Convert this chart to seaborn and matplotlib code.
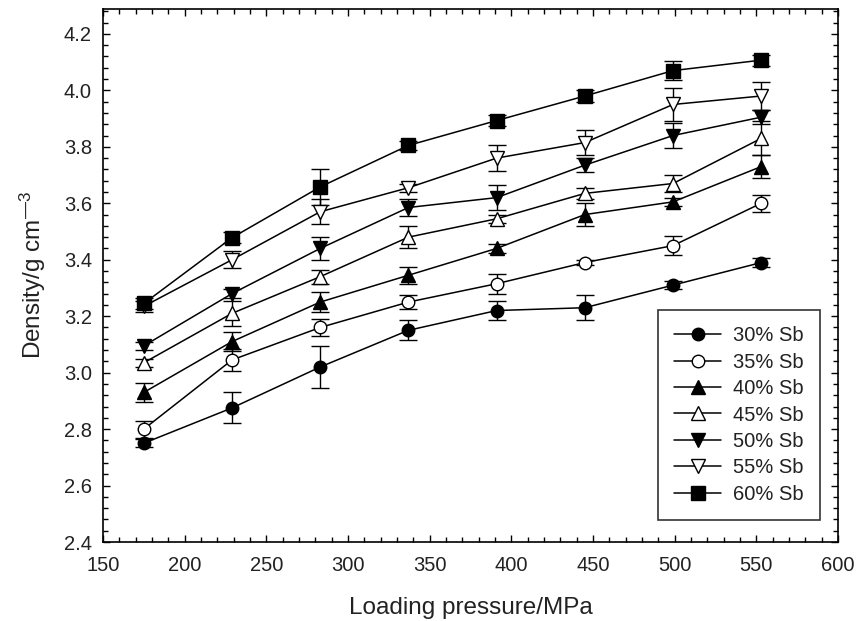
import matplotlib
matplotlib.use("Agg")
import matplotlib.pyplot as plt
import seaborn as sns
import pandas as pd
from matplotlib.ticker import MultipleLocator

pressure = [175, 229, 283, 337, 391, 445, 499, 553]
series_labels = ["30% Sb", "35% Sb", "40% Sb", "45% Sb", "50% Sb", "55% Sb", "60% Sb"]

d30 = [2.75, 2.875, 3.02, 3.15, 3.22, 3.23, 3.31, 3.39]
d35 = [2.80, 3.045, 3.16, 3.25, 3.315, 3.39, 3.45, 3.60]
d40 = [2.93, 3.11, 3.25, 3.345, 3.44, 3.56, 3.605, 3.73]
d45 = [3.035, 3.21, 3.34, 3.48, 3.545, 3.635, 3.67, 3.83]
d50 = [3.095, 3.28, 3.44, 3.585, 3.62, 3.735, 3.84, 3.905]
d55 = [3.235, 3.40, 3.57, 3.655, 3.76, 3.815, 3.95, 3.98]
d60 = [3.245, 3.478, 3.658, 3.805, 3.893, 3.98, 4.07, 4.107]

e30 = [0.015, 0.055, 0.075, 0.035, 0.035, 0.045, 0.015, 0.015]
e35 = [0.03, 0.04, 0.03, 0.025, 0.035, 0.01, 0.035, 0.03]
e40 = [0.035, 0.035, 0.035, 0.03, 0.015, 0.04, 0.015, 0.04]
e45 = [0.015, 0.045, 0.025, 0.04, 0.015, 0.02, 0.03, 0.06]
e50 = [0.015, 0.015, 0.04, 0.03, 0.045, 0.025, 0.045, 0.025]
e55 = [0.02, 0.03, 0.045, 0.015, 0.045, 0.045, 0.06, 0.05]
e60 = [0.02, 0.02, 0.065, 0.015, 0.02, 0.02, 0.035, 0.02]

values = [d30, d35, d40, d45, d50, d55, d60]
errors = [e30, e35, e40, e45, e50, e55, e60]
marker_shapes = ["o", "o", "^", "^", "v", "v", "s"]
marker_fill = ["black", "white", "black", "white", "black", "white", "black"]

rows = []
for lab, vals, errs in zip(series_labels, values, errors):
    for p, v, e in zip(pressure, vals, errs):
        rows.append({"pressure": p, "density": v, "err": e, "series": lab})
df = pd.DataFrame(rows)

sns.set_theme(style="ticks")
plt.rcParams["font.family"] = ["Liberation Sans", "DejaVu Sans"]
plt.rcParams["mathtext.fontset"] = "custom"
plt.rcParams["mathtext.rm"] = "Liberation Sans"
plt.rcParams["mathtext.it"] = "Liberation Sans"

fig = plt.figure(figsize=(8.59, 6.21), dpi=100)
ax = fig.add_axes([103 / 859, 1 - 542 / 621, (838 - 103) / 859, (542 - 8.5) / 621])

for lab, mk, fc in zip(series_labels, marker_shapes, marker_fill):
    sub = df[df["series"] == lab]
    ax.errorbar(sub["pressure"], sub["density"], yerr=sub["err"], fmt="none",
                ecolor="black", elinewidth=1.0, capsize=6.5, capthick=1.0, zorder=2)
    sns.lineplot(data=sub, x="pressure", y="density", ax=ax, color="black",
                 linewidth=1.1, marker=mk, markersize=9 if mk == "o" else 9.5,
                 markerfacecolor=fc, markeredgecolor="black", markeredgewidth=1.0,
                 label=lab, zorder=3, errorbar=None)

ax.set_xlim(150, 600)
ax.set_ylim(2.4, 4.29)
ax.xaxis.set_major_locator(MultipleLocator(50))
ax.xaxis.set_minor_locator(MultipleLocator(10))
ax.yaxis.set_minor_locator(MultipleLocator(0.04))
ax.set_yticks([2.4, 2.6, 2.8, 3.0, 3.2, 3.4, 3.6, 3.8, 4.0, 4.2])
ax.set_yticklabels(["2.4", "2.6", "2.8", "3.0", "3.2", "3.4", "3.6", "3.8", "4.0", "4.2"])
ax.tick_params(which="both", direction="in", top=True, right=True, colors="black",
               labelsize=14.5, width=1.0)
ax.tick_params(which="major", length=5)
ax.tick_params(axis="x", which="major", pad=10)
ax.tick_params(axis="y", which="major", pad=8)
ax.tick_params(which="minor", length=3.3)
for sp in ax.spines.values():
    sp.set_color("black")
    sp.set_linewidth(1.2)

ax.set_xlabel("Loading pressure/MPa", fontsize=17.5, labelpad=16, color="#222222")
ax.set_ylabel("Density/g cm$^{\u20143}$", fontsize=17.5, labelpad=11, color="#222222")

leg = ax.legend(loc="lower right", bbox_to_anchor=(820 / 859, 1 - 520 / 621),
                bbox_transform=fig.transFigure, frameon=True, fancybox=False,
                edgecolor="black", fontsize=14.5, handlelength=2.35, borderpad=0.8,
                labelspacing=0.37, handletextpad=0.6, borderaxespad=0.0, markerscale=1.0)
leg.get_frame().set_linewidth(1.2)
for t in leg.get_texts():
    t.set_color("#222222")
for t in ax.get_xticklabels() + ax.get_yticklabels():
    t.set_color("#222222")

fig.savefig("out.png", dpi=100)
